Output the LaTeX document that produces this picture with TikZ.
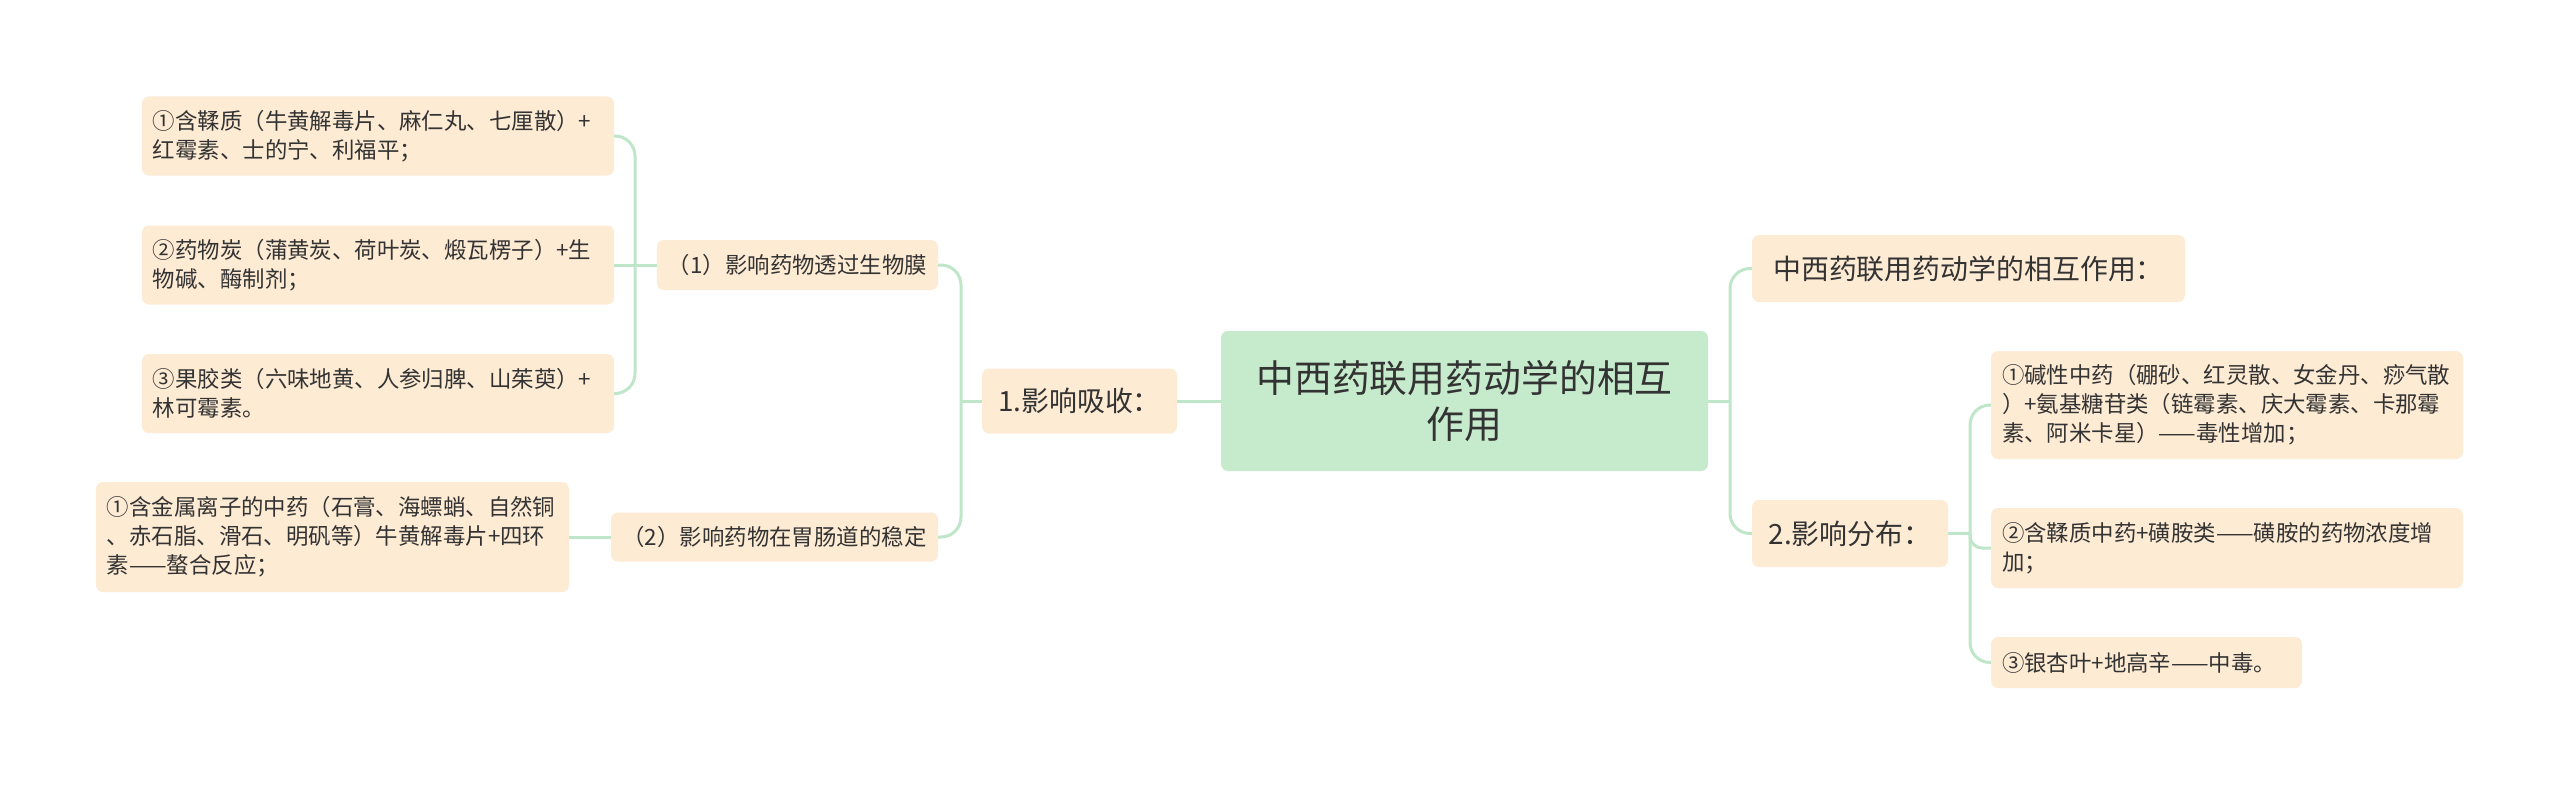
\documentclass[tikz,border=0pt]{standalone}
\usepackage{fontspec}
\setmainfont{Noto Sans CJK SC}

\definecolor{verdeRaiz}{HTML}{C6EBCC}
\definecolor{crema}{HTML}{FDEBD4}
\definecolor{verdeRama}{HTML}{BFE6C9}
\definecolor{tinta}{HTML}{333333}

\begin{document}
\begin{tikzpicture}[x=1bp, y=-1bp,
    caja/.style={rounded corners=7bp, fill=crema, text=tinta,
        inner xsep=11bp, inner ysep=0pt, align=left},
    hoja/.style={caja, font=\fontsize{22.5}{29}\selectfont},
    rama/.style={caja, align=center, font=\fontsize{28}{34}\selectfont},
    raiz/.style={caja, fill=verdeRaiz, align=center,
        font=\fontsize{38}{47}\selectfont},
    conector/.style={draw=verdeRama, line width=3bp, rounded corners=20bp}]

    % Fondo y marco
    \fill[white] (0,0) rectangle (2560,785);

    % Nodo central
    \node[raiz, minimum width=487bp, minimum height=140bp] (centro)
        at (1464.5,401) {中西药联用药动学的相互\\作用};

    % Rama izquierda
    \node[rama, minimum width=195bp, minimum height=65bp] (absorcion)
        at (1079.5,401) {1.影响吸收：};
    \node[hoja, align=center, minimum width=281bp, minimum height=50bp] (membrana)
        at (797.5,265) {（1）影响药物透过生物膜};
    \node[hoja, align=center, minimum width=327bp, minimum height=49bp] (estabilidad)
        at (774.5,537) {（2）影响药物在胃肠道的稳定};

    % Hojas de la membrana
    \foreach \nombre/\yc/\texto in {
        hojaA/136/{①含鞣质（牛黄解毒片、麻仁丸、七厘散）+\\红霉素、士的宁、利福平；},
        hojaB/265/{②药物炭（蒲黄炭、荷叶炭、煅瓦楞子）+生\\物碱、酶制剂；},
        hojaC/393.5/{③果胶类（六味地黄、人参归脾、山茱萸）+\\林可霉素。}}{
        \node[hoja, text width=450bp, minimum height=79bp] (\nombre)
            at (378,\yc) {\texto};
    }
    \node[hoja, text width=451bp, minimum height=110bp] (hojaD)
        at (332.5,537) {①含金属离子的中药（石膏、海螵蛸、自然铜\\、赤石脂、滑石、明矾等）牛黄解毒片+四环\\素——螯合反应；};

    % Rama derecha
    \node[rama, minimum width=433bp, minimum height=67bp] (resumen)
        at (1968.5,268.5) {中西药联用药动学的相互作用：};
    \node[rama, minimum width=196bp, minimum height=67bp] (distribucion)
        at (1850,533.5) {2.影响分布：};
    \node[hoja, text width=450bp, minimum height=108bp] (sub1)
        at (2227,405) {①碱性中药（硼砂、红灵散、女金丹、痧气散\\）+氨基糖苷类（链霉素、庆大霉素、卡那霉\\素、阿米卡星）——毒性增加；};
    \node[hoja, text width=450bp, minimum height=80bp] (sub2)
        at (2227,548) {②含鞣质中药+磺胺类——磺胺的药物浓度增\\加；};
    \node[hoja, text width=289bp, minimum height=51bp] (sub3)
        at (2146.5,662.5) {③银杏叶+地高辛——中毒。};

    % Puntos de bifurcacion
    \coordinate (tR) at (1730,401);
    \coordinate (tA) at (961,401);
    \coordinate (tP) at (635,265);
    \coordinate (tS) at (1970,533.5);

    % Conectores
    \draw[conector] (centro.east) -- (tR);
    \draw[conector] (tR) |- (resumen.west);
    \draw[conector] (tR) |- (distribucion.west);
    \draw[conector] (centro.west) -- (absorcion.east);
    \draw[conector] (absorcion.west) -- (tA);
    \draw[conector] (tA) |- (membrana.east);
    \draw[conector] (tA) |- (estabilidad.east);
    \draw[conector] (membrana.west) -- (hojaB.east);
    \foreach \nombre in {hojaA, hojaC}
        \draw[conector] (tP) |- (\nombre.east);
    \draw[conector] (estabilidad.west) -- (hojaD.east);
    \draw[conector] (distribucion.east) -- (tS);
    \draw[conector] (tS) |- (sub1.west);
    \draw[conector, rounded corners=12bp] (tS) |- (sub2.west);
    \draw[conector] (tS) |- (sub3.west);
\end{tikzpicture}
\end{document}
